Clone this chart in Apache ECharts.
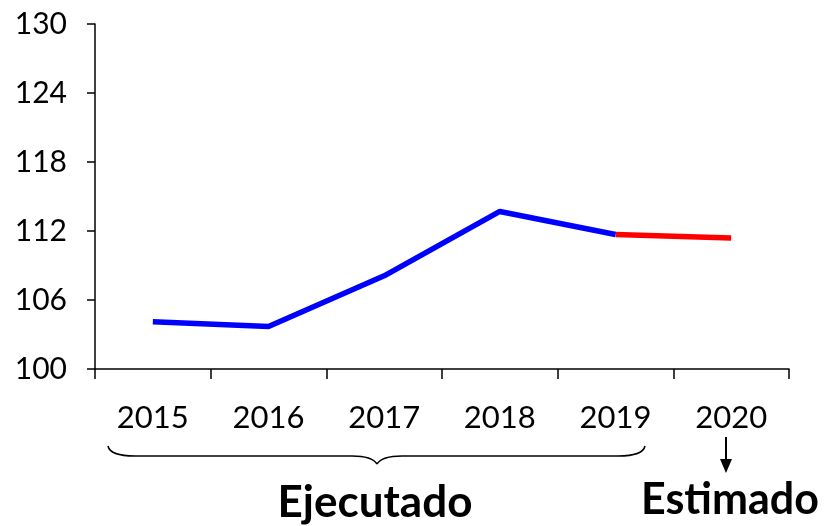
<!DOCTYPE html>
<html>
<head>
<meta charset="utf-8">
<script src="https://cdn.jsdelivr.net/npm/echarts@6/dist/echarts.min.js"></script>
<style>
  html, body { margin: 0; padding: 0; background: #fff; }
  #main { width: 825px; height: 526px; }
</style>
</head>
<body>
<div id="main"></div>
<script>
// datos
var years = ['2015', '2016', '2017', '2018', '2019', '2020'];
var ejecutado = [104.1, 103.7, 108.1, 113.7, 111.7, '-'];
var estimado = ['-', '-', '-', '-', 111.7, 111.4];
var yMin = 100, yMax = 130, yStep = 6;

var myChart = echarts.init(document.getElementById('main'));

var braceStyle = { fill: null, stroke: '#000', lineWidth: 1.5 };

// trozo curvo de la llave
function curva(x1, y1, cx, cy, x2, y2) {
    return {
        type: 'bezierCurve',
        shape: { x1: x1, y1: y1, x2: x2, y2: y2, cpx1: cx, cpy1: cy },
        style: braceStyle
    };
}
function recta(x1, y1, x2, y2) {
    return {
        type: 'line',
        shape: { x1: x1, y1: y1, x2: x2, y2: y2 },
        style: braceStyle
    };
}

var option = {
    backgroundColor: '#fff',
    animation: false,
    grid: { left: 95, right: 36, top: 24, bottom: 157 },
    xAxis: {
        type: 'category',
        data: years,
        boundaryGap: true,
        axisLine: { lineStyle: { color: '#000', width: 1.5 } },
        axisTick: { show: true, length: 10, inside: false, lineStyle: { color: '#000', width: 1.5 } },
        axisLabel: { color: '#000', fontFamily: 'Lato', fontSize: 31, margin: 33 }
    },
    yAxis: {
        type: 'value',
        min: yMin,
        max: yMax,
        interval: yStep,
        splitLine: { show: false },
        axisLine: { show: true, lineStyle: { color: '#000', width: 1.5 } },
        axisTick: { show: true, length: 8, lineStyle: { color: '#000', width: 1.5 } },
        axisLabel: { color: '#000', fontFamily: 'Lato', fontSize: 30, margin: 28 }
    },
    series: [
        {
            name: 'Ejecutado',
            type: 'line',
            data: ejecutado,
            showSymbol: false,
            lineStyle: { color: '#0000ff', width: 5.5 },
            z: 3
        },
        {
            name: 'Estimado',
            type: 'line',
            data: estimado,
            showSymbol: false,
            lineStyle: { color: '#ff0000', width: 5.5 },
            z: 2
        }
    ],
    graphic: [
        // llave bajo 2015-2019
        curva(108, 446, 110, 456, 135, 456),
        recta(135, 456, 352, 456),
        curva(352, 456, 372, 456, 377, 464),
        curva(377, 464, 382, 456, 402, 456),
        recta(402, 456, 618, 456),
        curva(618, 456, 643, 456, 645, 446),
        {
            type: 'text',
            x: 375, y: 481,
            style: { text: 'Ejecutado', font: 'bold 44px Lato', fill: '#000', align: 'center' }
        },
        // flecha bajo 2020
        {
            type: 'line',
            shape: { x1: 726, y1: 437, x2: 726, y2: 462 },
            style: { stroke: '#000', lineWidth: 2 }
        },
        {
            type: 'polygon',
            shape: { points: [[720, 459], [732, 459], [726, 473]] },
            style: { fill: '#000' }
        },
        {
            type: 'text',
            x: 730, y: 479,
            style: { text: 'Estimado', font: 'bold 43px Lato', fill: '#000', align: 'center' }
        }
    ]
};

myChart.setOption(option);
</script>
</body>
</html>
